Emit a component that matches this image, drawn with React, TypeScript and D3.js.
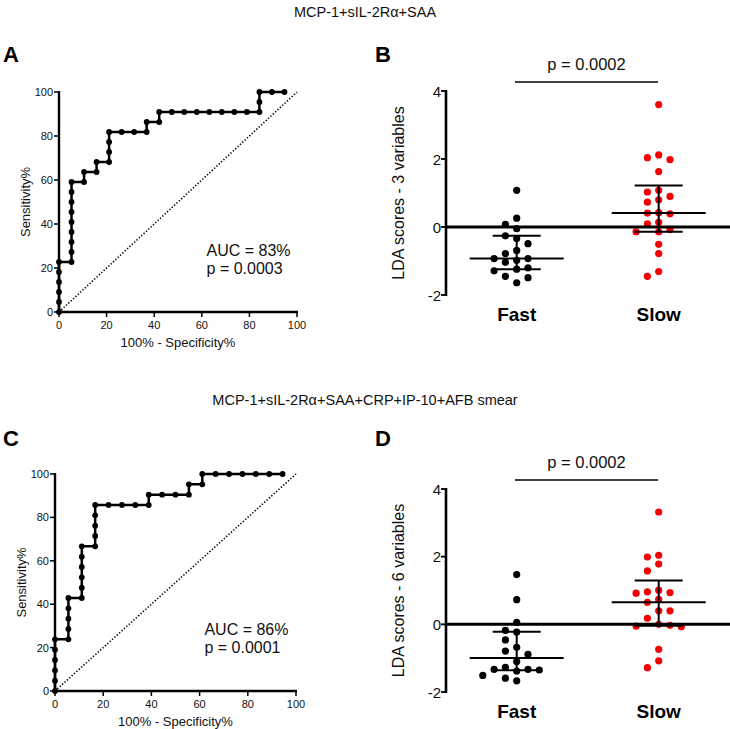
import React from 'react';
import * as d3 from 'd3';

const FONT = "'Liberation Sans', Arial, Helvetica, sans-serif";

const titles = ['MCP-1+sIL-2Rα+SAA', 'MCP-1+sIL-2Rα+SAA+CRP+IP-10+AFB smear'];
const panelLetters = ['A', 'B', 'C', 'D'];
const rocTicks = [0, 20, 40, 60, 80, 100];
const ldaTicks = [-2, 0, 2, 4];
const groups = ['Fast', 'Slow'];
const aucLabels = ['AUC = 83%', 'AUC = 86%'];
const rocPLabels = ['p = 0.0003', 'p = 0.0001'];
const ldaPLabels = ['p = 0.0002', 'p = 0.0002'];
const ldaAxisLabels = ['LDA scores - 3 variables', 'LDA scores - 6 variables'];

// ROC A (100% - specificity %, sensitivity %)
const rocAFpr = [0, 0, 0, 0, 0, 0, 5.26, 5.26, 5.26, 5.26, 5.26, 5.26, 5.26, 5.26, 5.26, 10.53, 10.53, 15.79, 15.79, 21.05, 21.05, 21.05, 21.05, 26.32, 31.58, 36.84, 36.84, 42.11, 42.11, 47.37, 52.63, 57.89, 63.16, 68.42, 73.68, 78.95, 84.21, 84.21, 84.21, 89.47, 94.74];
const rocASens = [0, 4.55, 9.09, 13.64, 18.18, 22.73, 22.73, 27.27, 31.82, 36.36, 40.91, 45.45, 50, 54.55, 59.09, 59.09, 63.64, 63.64, 68.18, 68.18, 72.73, 77.27, 81.82, 81.82, 81.82, 81.82, 86.36, 86.36, 90.91, 90.91, 90.91, 90.91, 90.91, 90.91, 90.91, 90.91, 90.91, 95.45, 100, 100, 100];

// ROC C
const rocCFpr = [0, 0, 0, 0, 0, 0, 5.56, 5.56, 5.56, 5.56, 5.56, 11.11, 11.11, 11.11, 11.11, 11.11, 11.11, 16.67, 16.67, 16.67, 16.67, 16.67, 22.22, 27.78, 33.33, 38.89, 38.89, 44.44, 50, 55.56, 55.56, 61.11, 61.11, 66.67, 72.22, 77.78, 83.33, 88.89, 94.44];
const rocCSens = [0, 4.76, 9.52, 14.29, 19.05, 23.81, 23.81, 28.57, 33.33, 38.1, 42.86, 42.86, 47.62, 52.38, 57.14, 61.9, 66.67, 66.67, 71.43, 76.19, 80.95, 85.71, 85.71, 85.71, 85.71, 85.71, 90.48, 90.48, 90.48, 90.48, 95.24, 95.24, 100, 100, 100, 100, 100, 100, 100];

// LDA scores
const ldaBFast = [1.08, 0.26, 0.08, -0.05, -0.26, -0.34, -0.49, -0.69, -0.78, -0.93, -0.98, -0.93, -1.04, -1.2, -1.24, -1.29, -1.45, -1.49, -1.64];
const ldaBSlow = [3.6, 1.98, 2.04, 2.12, 1.63, 1.03, 1.08, 0.8, 0.9, 0.73, 0.41, 0.39, 0.42, 0.14, 0.09, -0.08, -0.14, -0.14, -0.51, -0.78, -1.31, -1.45];
const ldaDFast = [1.47, 0.73, 0.06, -0.23, -0.18, -0.46, -0.68, -0.79, -0.89, -1.1, -1.33, -1.33, -1.27, -1.38, -1.35, -1.51, -1.59, -1.67];
const ldaDSlow = [3.32, 1.78, 1.99, 2.04, 1.58, 0.96, 0.92, 0.94, 1.01, 0.74, 0.4, 0.4, 0.65, 0.18, -0.03, 0.0, -0.05, -0.07, -0.74, -1.08, -1.28];

function quant(values: number[], p: number) {
  const s = [...values].sort((a, b) => a - b);
  const pos = (s.length + 1) * p;
  const lo = Math.max(1, Math.min(s.length, Math.floor(pos)));
  const hi = Math.min(s.length, lo + 1);
  const f = pos - Math.floor(pos);
  return s[lo - 1] + f * (s[hi - 1] - s[lo - 1]);
}

function swarm(values: number[], yScale: (v: number) => number, T: number) {
  const order = values.map((_, i) => i).sort((a, b) => values[b] - values[a]);
  const cols = new Map<number, number[]>();
  const res: number[] = new Array(values.length).fill(0);
  const prefs = [0, -1, 1, -2, 2, -3, 3, -4, 4, -5, 5];
  for (const i of order) {
    const py = yScale(values[i]);
    for (const c of prefs) {
      const list = cols.get(c) || [];
      if (list.every((q) => Math.abs(q - py) >= T)) {
        list.push(py);
        cols.set(c, list);
        res[i] = c;
        break;
      }
    }
  }
  return res;
}

function RocPanel(props: any) {
  const { fpr, sens, left, right, top, bottom, aucText, pText } = props;
  const x = d3.scaleLinear().domain([0, 100]).range([left, right]);
  const y = d3.scaleLinear().domain([0, 100]).range([bottom, top]);
  const pts: [number, number][] = fpr.map((f: number, i: number) => [f, sens[i]]);
  const line = d3.line<[number, number]>().x((d) => x(d[0])).y((d) => y(d[1]));
  return (
    <g fontFamily={FONT}>
      <line x1={x(0)} y1={y(0)} x2={x(100)} y2={y(100)} stroke="#000" strokeWidth={1.6} strokeDasharray="1.3 1.9" />
      <path d={line(pts) || ''} fill="none" stroke="#000" strokeWidth={2.5} strokeLinejoin="miter" />
      {pts.map((d, i) => (
        <circle key={i} cx={x(d[0])} cy={y(d[1])} r={2.9} fill="#000" />
      ))}
      <line x1={left} y1={y(100) - 1} x2={left} y2={bottom + 1.2} stroke="#000" strokeWidth={2.4} />
      <line x1={left - 1.2} y1={bottom} x2={x(100) + 1} y2={bottom} stroke="#000" strokeWidth={2.4} />
      {rocTicks.map((t) => (
        <g key={'y' + t}>
          <line x1={left - 5} x2={left} y1={y(t)} y2={y(t)} stroke="#000" strokeWidth={1.5} />
          <text x={left - 6} y={y(t) + 4} fontSize={11} textAnchor="end" fill="#111">{t}</text>
        </g>
      ))}
      {rocTicks.map((t) => (
        <g key={'x' + t}>
          <line x1={x(t)} x2={x(t)} y1={bottom} y2={bottom + 5} stroke="#000" strokeWidth={1.5} />
          <text x={x(t)} y={bottom + 17} fontSize={11} textAnchor="middle" fill="#111">{t}</text>
        </g>
      ))}
      <text transform={`translate(${left - 29},${(top + bottom) / 2}) rotate(-90)`} fontSize={13} textAnchor="middle" fill="#111">Sensitivity%</text>
      <text x={(left + right) / 2} y={bottom + 35} fontSize={13} textAnchor="middle" fill="#111">100% - Specificity%</text>
      <text x={x(62)} y={bottom - 56} fontSize={16} fill="#111">{aucText}</text>
      <text x={x(62)} y={bottom - 38} fontSize={16} fill="#111">{pText}</text>
    </g>
  );
}

function LdaPanel(props: any) {
  const { fast, slow, top, bottom, axisX, axisLabel, pText } = props;
  const y = d3.scaleLinear().domain([-2, 4]).range([bottom, top]);
  const x = d3.scalePoint<string>().domain(groups).range([516.7, 658.7]);
  const colW = 11.3;
  const sets = [
    { key: 'Fast', vals: fast as number[], color: '#000' },
    { key: 'Slow', vals: slow as number[], color: '#f50000' },
  ];
  return (
    <g fontFamily={FONT}>
      {sets.map((s) => {
        const cols = swarm(s.vals, y, 8.6);
        const cx = x(s.key) as number;
        return (
          <g key={s.key}>
            {s.vals.map((v, i) => (
              <circle key={i} cx={cx + cols[i] * colW} cy={y(v)} r={3.6} fill={s.color} />
            ))}
          </g>
        );
      })}
      <line x1={axisX} x2={730} y1={y(0)} y2={y(0)} stroke="#000" strokeWidth={3} />
      {sets.map((s) => {
        const cx = x(s.key) as number;
        const med = quant(s.vals, 0.5);
        const q1 = quant(s.vals, 0.25);
        const q3 = quant(s.vals, 0.75);
        return (
          <g key={'st' + s.key} stroke="#000" strokeWidth={2}>
            <line x1={cx - 47} x2={cx + 47} y1={y(med)} y2={y(med)} />
            <line x1={cx - 24} x2={cx + 24} y1={y(q1)} y2={y(q1)} />
            <line x1={cx - 24} x2={cx + 24} y1={y(q3)} y2={y(q3)} />
            <line x1={cx} x2={cx} y1={y(q1)} y2={y(q3)} />
          </g>
        );
      })}
      <line x1={axisX} x2={axisX} y1={y(4) - 1} y2={y(-2) + 1} stroke="#000" strokeWidth={2.6} />
      {ldaTicks.map((t) => (
        <g key={t}>
          <line x1={axisX - 5} x2={axisX} y1={y(t)} y2={y(t)} stroke="#000" strokeWidth={1.8} />
          <text x={axisX - 5} y={y(t) + 5.5} fontSize={15} textAnchor="end" fill="#111">{t}</text>
        </g>
      ))}
      <text transform={`translate(${axisX - 42},${(top + bottom) / 2}) rotate(-90)`} fontSize={16} textAnchor="middle" fill="#111">{axisLabel}</text>
      {groups.map((g) => (
        <text key={g} x={x(g) as number} y={bottom + 26} fontSize={19} fontWeight="bold" textAnchor="middle" fill="#000">{g}</text>
      ))}
      <line x1={515} x2={658} y1={top - 9} y2={top - 9} stroke="#000" strokeWidth={1.4} />
      <text x={586.5} y={top - 21} fontSize={16.5} textAnchor="middle" fill="#111">{pText}</text>
    </g>
  );
}

export default function App() {
  return (
    <svg width={730} height={729} viewBox="0 0 730 729" style={{ position: 'absolute', left: 0, top: 0, background: '#fff' }}>
      <rect width={730} height={729} fill="#fff" />
      <text x={365} y={17} fontFamily={FONT} fontSize={14.5} textAnchor="middle" fill="#111">{titles[0]}</text>
      <text x={365} y={405} fontFamily={FONT} fontSize={14.5} textAnchor="middle" fill="#111">{titles[1]}</text>
      <text x={3} y={62} fontFamily={FONT} fontSize={22} fontWeight="bold">{panelLetters[0]}</text>
      <text x={375} y={62} fontFamily={FONT} fontSize={22} fontWeight="bold">{panelLetters[1]}</text>
      <text x={3} y={446} fontFamily={FONT} fontSize={22} fontWeight="bold">{panelLetters[2]}</text>
      <text x={375} y={446} fontFamily={FONT} fontSize={22} fontWeight="bold">{panelLetters[3]}</text>
      <RocPanel fpr={rocAFpr} sens={rocASens} left={59} right={297} top={92} bottom={312} aucText={aucLabels[0]} pText={rocPLabels[0]} />
      <RocPanel fpr={rocCFpr} sens={rocCSens} left={55} right={296} top={474} bottom={691} aucText={aucLabels[1]} pText={rocPLabels[1]} />
      <LdaPanel fast={ldaBFast} slow={ldaBSlow} top={91} bottom={295} axisX={446} axisLabel={ldaAxisLabels[0]} pText={ldaPLabels[0]} />
      <LdaPanel fast={ldaDFast} slow={ldaDSlow} top={489} bottom={692} axisX={446} axisLabel={ldaAxisLabels[1]} pText={ldaPLabels[1]} />
    </svg>
  );
}
